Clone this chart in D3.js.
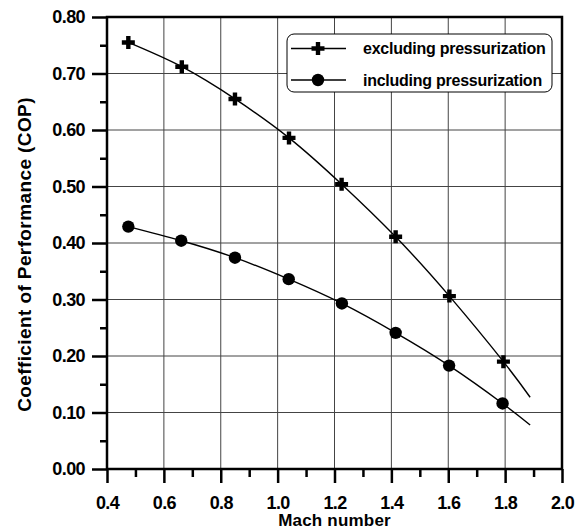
<!DOCTYPE html>
<html>
<head>
<meta charset="utf-8">
<script src="https://cdn.jsdelivr.net/npm/d3@7"></script>
<style>
body{margin:0;background:#fff;}
text{font-family:"Liberation Sans",Arial,sans-serif;font-weight:bold;}
</style>
</head>
<body>
<div id="container"></div>
<script>
let w = 577;
let h = 531;

// data
let machExcl = [0.475, 0.663, 0.85, 1.04, 1.225, 1.415, 1.604, 1.794];
let copExcl = [0.755, 0.712, 0.655, 0.586, 0.504, 0.411, 0.306, 0.19];
let machIncl = [0.475, 0.661, 0.85, 1.039, 1.226, 1.415, 1.603, 1.791];
let copIncl = [0.429, 0.404, 0.374, 0.336, 0.293, 0.241, 0.183, 0.116];
// the fitted curves run a bit past the last marker
let curveEndMach = 1.888;
let curveEndExcl = 0.127;
let curveEndIncl = 0.078;

let xTicks = [0.4, 0.6, 0.8, 1.0, 1.2, 1.4, 1.6, 1.8, 2.0];
let xMinor = [0.5, 0.7, 0.9, 1.1, 1.3, 1.5, 1.7, 1.9];
let yTicks = [0.0, 0.1, 0.2, 0.3, 0.4, 0.5, 0.6, 0.7, 0.8];
let yMinor = [0.05, 0.15, 0.25, 0.35, 0.45, 0.55, 0.65, 0.75];
let legendNames = ["excluding pressurization", "including pressurization"];

let pLeft = 107, pRight = 562, pTop = 17, pBottom = 469;

let viz = d3.select("#container").append("svg")
  .attr("width", w)
  .attr("height", h)
  .style("display", "block");

let x = d3.scaleLinear().domain([0.4, 2.0]).range([pLeft, pRight]);
let y = d3.scaleLinear().domain([0, 0.8]).range([pBottom, pTop]);

// grid
viz.selectAll(".vgrid").data(xTicks.slice(1, -1)).enter()
  .append("line")
  .attr("x1", d => x(d)).attr("x2", d => x(d))
  .attr("y1", pTop).attr("y2", pBottom)
  .attr("stroke", "#444").attr("stroke-width", 1);
viz.selectAll(".hgrid").data(yTicks.slice(1, -1)).enter()
  .append("line")
  .attr("y1", d => y(d)).attr("y2", d => y(d))
  .attr("x1", pLeft).attr("x2", pRight)
  .attr("stroke", "#444").attr("stroke-width", 1);

// axes
let xAxis = d3.axisBottom(x).tickValues(xTicks).tickSize(14).tickPadding(13)
  .tickFormat(d3.format(".1f"));
let gx = viz.append("g").attr("transform", "translate(0," + pBottom + ")").call(xAxis);
gx.select(".domain").remove();
gx.selectAll("line").attr("stroke", "#000").attr("stroke-width", 2.5);
gx.selectAll("text").attr("font-size", 18).attr("fill", "#000").attr("letter-spacing", -0.6);

let xAxisMinor = d3.axisBottom(x).tickValues(xMinor).tickSize(8).tickFormat("");
let gxm = viz.append("g").attr("transform", "translate(0," + pBottom + ")").call(xAxisMinor);
gxm.select(".domain").remove();
gxm.selectAll("line").attr("stroke", "#000").attr("stroke-width", 2.5);

let yAxis = d3.axisLeft(y).tickValues(yTicks).tickSize(15).tickPadding(7)
  .tickFormat(d3.format(".2f"));
let gy = viz.append("g").attr("transform", "translate(" + pLeft + ",0)").call(yAxis);
gy.select(".domain").remove();
gy.selectAll("line").attr("stroke", "#000").attr("stroke-width", 2.5);
gy.selectAll("text").attr("font-size", 18).attr("fill", "#000").attr("letter-spacing", -0.6);

let yAxisMinor = d3.axisLeft(y).tickValues(yMinor).tickSize(7).tickFormat("");
let gym = viz.append("g").attr("transform", "translate(" + pLeft + ",0)").call(yAxisMinor);
gym.select(".domain").remove();
gym.selectAll("line").attr("stroke", "#000").attr("stroke-width", 2.5);

// frame
viz.append("rect")
  .attr("x", pLeft).attr("y", pTop)
  .attr("width", pRight - pLeft).attr("height", pBottom - pTop)
  .attr("fill", "none").attr("stroke", "#000").attr("stroke-width", 2.5);

// curves
let lineMaker = d3.line().x(d => x(d[0])).y(d => y(d[1])).curve(d3.curveNatural);
let exclPts = machExcl.map((m, i) => [m, copExcl[i]]);
let inclPts = machIncl.map((m, i) => [m, copIncl[i]]);

viz.append("path")
  .attr("d", lineMaker(exclPts.concat([[curveEndMach, curveEndExcl]])))
  .attr("fill", "none").attr("stroke", "#000").attr("stroke-width", 1.4);
viz.append("path")
  .attr("d", lineMaker(inclPts.concat([[curveEndMach, curveEndIncl]])))
  .attr("fill", "none").attr("stroke", "#000").attr("stroke-width", 1.4);

function crossPath(cx, cy) {
  let a = 6.5, t = 2.2;
  return "M" + (cx - t) + "," + (cy - a) + "h" + 2 * t + "v" + (a - t) + "h" + (a - t) +
    "v" + 2 * t + "h" + (-(a - t)) + "v" + (a - t) + "h" + (-2 * t) + "v" + (-(a - t)) +
    "h" + (-(a - t)) + "v" + (-2 * t) + "h" + (a - t) + "Z";
}

viz.selectAll(".cross").data(exclPts).enter()
  .append("path")
  .attr("class", "cross")
  .attr("d", d => crossPath(x(d[0]), y(d[1])))
  .attr("fill", "#000");

viz.selectAll(".dot").data(inclPts).enter()
  .append("circle")
  .attr("class", "dot")
  .attr("cx", d => x(d[0])).attr("cy", d => y(d[1]))
  .attr("r", 6.2)
  .attr("fill", "#000");

// legend
let lg = viz.append("g");
lg.append("rect")
  .attr("x", 287).attr("y", 34)
  .attr("width", 265).attr("height", 58)
  .attr("rx", 7).attr("ry", 7)
  .attr("fill", "#fff").attr("stroke", "#000").attr("stroke-width", 1);
let rowY = [48.5, 80];
legendNames.forEach(function (name, i) {
  lg.append("line")
    .attr("x1", 291).attr("x2", 346)
    .attr("y1", rowY[i]).attr("y2", rowY[i])
    .attr("stroke", "#000").attr("stroke-width", 1.4);
  if (i == 0) {
    lg.append("path").attr("d", crossPath(318, rowY[i])).attr("fill", "#000");
  } else {
    lg.append("circle").attr("cx", 318).attr("cy", rowY[i]).attr("r", 6.2).attr("fill", "#000");
  }
  lg.append("text")
    .attr("x", 363).attr("y", rowY[i] + 5.5)
    .attr("font-size", 16).attr("letter-spacing", -0.25)
    .text(name);
});

// axis titles
viz.append("text")
  .attr("x", (pLeft + pRight) / 2).attr("y", 526)
  .attr("text-anchor", "middle")
  .attr("font-size", 17).attr("letter-spacing", 0.2)
  .text("Mach number");

viz.append("text")
  .attr("transform", "translate(31,254.5) rotate(-90)")
  .attr("text-anchor", "middle")
  .attr("font-size", 19).attr("letter-spacing", 0.4)
  .text("Coefficient of Performance (COP)");
</script>
</body>
</html>
